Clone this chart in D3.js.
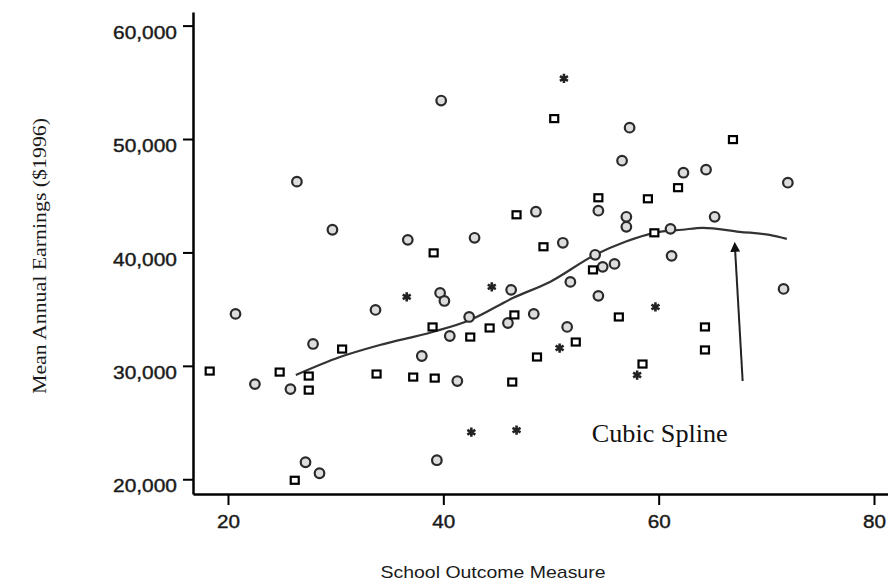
<!DOCTYPE html>
<head>
<meta charset="utf-8">
<style>
body { margin:0; background:#fff; }
#chart1 svg { display:block; }
.axis path, .axis line { stroke:#000; }
.axis text { font-family:'Liberation Sans', Arial, sans-serif; font-size:18px; fill:#1a1a1a; stroke:#1a1a1a; stroke-width:0.4px; }
</style>
</head>
<body>
<div id="chart1"></div>
<script src="https://d3js.org/d3.v7.min.js"></script>
<script>

// values: [school outcome measure, mean annual earnings]
var circlePts = [
  [20.7,34580],[22.5,28390],[26.4,46240],[29.7,42000],[33.7,34930],[36.7,41110],
  [39.8,53390],[39.7,36430],[40.1,35720],[38.0,30870],[40.6,32630],[42.9,41290],
  [41.3,28660],[27.2,21500],[28.5,20530],[39.4,21680],[27.9,31930],[25.8,27950],
  [42.4,34310],[46.3,36700],[46.0,33780],[48.6,43590],[51.1,40850],[51.8,37400],
  [51.5,33430],[48.4,34580],[54.4,43680],[54.4,36170],[54.1,39790],[54.8,38730],
  [55.9,38990],[56.6,48090],[57.3,51000],[57.0,43140],[57.0,42260],[61.2,39700],
  [61.1,42080],[62.3,47030],[64.4,47300],[65.2,43140],[72.0,46150],[71.6,36780]
];
var squarePts = [
  [18.3,29540],[24.8,29450],[27.5,29100],[27.5,27860],[30.6,31480],[26.2,19910],
  [33.8,29280],[37.2,29010],[39.2,28920],[39.0,33430],[39.1,39960],[42.5,32540],
  [44.3,33340],[46.6,34490],[46.4,28570],[46.8,43320],[49.3,40500],[50.3,51800],
  [48.7,30780],[52.3,32100],[53.9,38460],[54.4,44820],[56.3,34310],[58.5,30160],
  [59.0,44730],[59.6,41730],[61.8,45710],[64.3,33430],[64.3,31400],[66.9,49950]
];
var starPts = [
  [51.2,55340],[36.6,36080],[44.5,36960],[59.7,35190],[58.0,29190],[50.8,31570],
  [42.6,24150],[46.8,24330]
];
var splinePts = [
  [26.3,29190],[30.4,30780],[34.1,31840],[39.0,32990],[42.5,34050],[46.5,36000],
  [49.9,37400],[54.1,39790],[56.9,40940],[59.6,41730],[62.2,42000],[64.1,42170],
  [67.5,41820],[70.3,41550],[71.9,41200]
];
var xTicks = [20, 40, 60, 80];
var yTicks = [20000, 30000, 40000, 50000, 60000];
var arrowPts = [[67.8,28660],[67.1,40230]];
var labelPos = [60.1, 23270];

var width = 888, height = 583;

var svg = d3.select('#chart1')
  .append('svg')
    .attr('width', width)
    .attr('height', height);

var xScale = d3.scaleLinear().domain([16.75, 81.3]).range([193, 888]);
var yScale = d3.scaleLinear().domain([18700, 61200]).range([494, 12]);

// axes
var yAxis = d3.axisLeft(yScale).tickValues(yTicks).tickFormat(d3.format(","))
    .tickSize(10).tickPadding(6).tickSizeOuter(0);
var xAxis = d3.axisBottom(xScale).tickValues(xTicks)
    .tickSize(11).tickPadding(10).tickSizeOuter(0);

svg.append("g")
    .attr("class", "axis axis--x")
    .attr("transform", "translate(0,494)")
    .call(xAxis);

svg.append("g")
    .attr("class", "axis axis--y")
    .attr("transform", "translate(193,0)")
    .call(yAxis);

svg.selectAll(".axis path").attr("stroke-width", 2.5);
svg.selectAll(".axis line").attr("stroke-width", 2);
svg.selectAll(".axis--y text").attr("dy", "0.7em")
    .attr("textLength", 64).attr("lengthAdjust", "spacingAndGlyphs");
svg.selectAll(".axis--x text")
    .attr("textLength", 23).attr("lengthAdjust", "spacingAndGlyphs");

// axis titles
svg.append("text")
    .attr("transform", "translate(46,256) rotate(-90)")
    .attr("text-anchor", "middle")
    .attr("font-family", "'Liberation Serif', 'Times New Roman', serif")
    .attr("font-size", "19px")
    .attr("fill", "#1a1a1a")
    .attr("textLength", 276)
    .attr("lengthAdjust", "spacingAndGlyphs")
    .text("Mean Annual Earnings ($1996)");

svg.append("text")
    .attr("x", 493)
    .attr("y", 578)
    .attr("text-anchor", "middle")
    .attr("font-family", "'Liberation Sans', Arial, sans-serif")
    .attr("font-size", "17px")
    .attr("fill", "#1a1a1a")
    .attr("textLength", 225)
    .attr("lengthAdjust", "spacingAndGlyphs")
    .text("School Outcome Measure");

// cubic spline
var line = d3.line()
    .x(function(d) { return xScale(d[0]); })
    .y(function(d) { return yScale(d[1]); })
    .curve(d3.curveMonotoneX);

svg.append("path")
    .datum(splinePts)
    .attr("d", line)
    .attr("fill", "none")
    .attr("stroke", "#333")
    .attr("stroke-width", 2.2);

// points
svg.selectAll(".circ")
    .data(circlePts)
  .enter().append("circle")
    .attr("class", "circ")
    .attr("cx", function(d) { return xScale(d[0]); })
    .attr("cy", function(d) { return yScale(d[1]); })
    .attr("r", 4.8)
    .attr("fill", "#ddd")
    .attr("stroke", "#2a2a2a")
    .attr("stroke-width", 2.2);

svg.selectAll(".sq")
    .data(squarePts)
  .enter().append("rect")
    .attr("class", "sq")
    .attr("x", function(d) { return xScale(d[0]) - 4; })
    .attr("y", function(d) { return yScale(d[1]) - 3.5; })
    .attr("width", 8)
    .attr("height", 7)
    .attr("fill", "#fff")
    .attr("stroke", "#000")
    .attr("stroke-width", 2.2);

svg.selectAll(".star")
    .data(starPts)
  .enter().append("path")
    .attr("class", "star")
    .attr("d", d3.symbol().type(d3.symbolAsterisk).size(60))
    .attr("transform", function(d) { return "translate(" + xScale(d[0]) + "," + yScale(d[1]) + ")"; })
    .attr("fill", "none")
    .attr("stroke", "#222")
    .attr("stroke-width", 2.6);

// arrow annotation
svg.append("defs").append("marker")
    .attr("id", "arrow")
    .attr("viewBox", "0 -5 10 10")
    .attr("refX", 2)
    .attr("refY", 0)
    .attr("markerWidth", 5)
    .attr("markerHeight", 5)
    .attr("orient", "auto")
  .append("path")
    .attr("d", "M0,-5L10,0L0,5Z")
    .attr("fill", "#111");

svg.append("line")
    .attr("x1", xScale(arrowPts[0][0]))
    .attr("y1", yScale(arrowPts[0][1]))
    .attr("x2", xScale(arrowPts[1][0]))
    .attr("y2", yScale(arrowPts[1][1]))
    .attr("stroke", "#222")
    .attr("stroke-width", 2)
    .attr("marker-end", "url(#arrow)");

svg.append("text")
    .attr("x", xScale(labelPos[0]))
    .attr("y", yScale(labelPos[1]))
    .attr("text-anchor", "middle")
    .attr("font-family", "'Liberation Serif', 'Times New Roman', serif")
    .attr("font-size", "26px")
    .attr("fill", "#111")
    .attr("textLength", 136)
    .attr("lengthAdjust", "spacingAndGlyphs")
    .text("Cubic Spline");

</script>
</body>
